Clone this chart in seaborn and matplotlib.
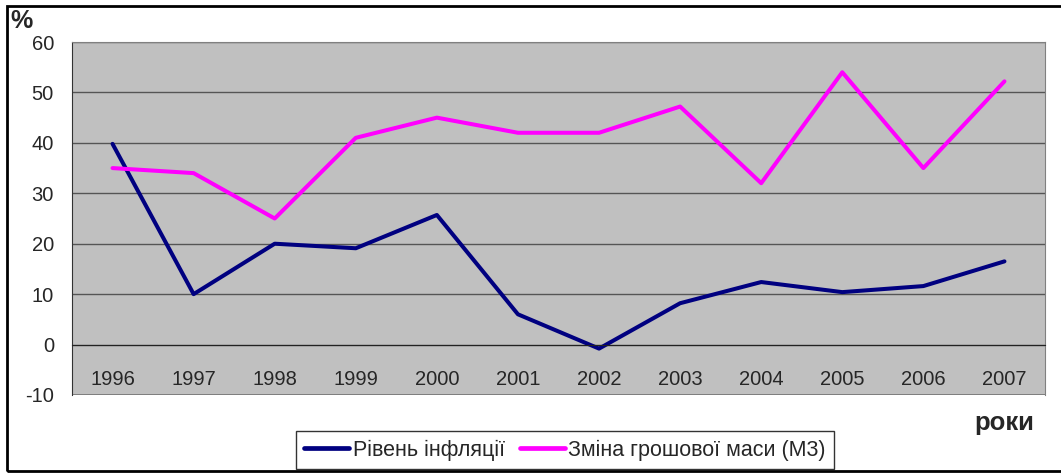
#!/usr/bin/env python3
import pandas as pd
import matplotlib
matplotlib.use("Agg")
import matplotlib.pyplot as plt
from matplotlib.patches import Rectangle
import seaborn as sns

years = ['1996', '1997', '1998', '1999', '2000', '2001',
         '2002', '2003', '2004', '2005', '2006', '2007']
inflation = [39.8, 10.0, 20.0, 19.1, 25.7, 6.0, -0.8, 8.2, 12.4, 10.4, 11.6, 16.5]
money_m3 = [35.0, 34.0, 25.0, 41.0, 45.0, 42.0, 42.0, 47.2, 32.0, 54.0, 35.0, 52.2]
series_names = ['Рівень інфляції', 'Зміна грошової маси (М3)']

df = pd.DataFrame({
    'year': years * 2,
    'value': inflation + money_m3,
    'series': [series_names[0]] * len(years) + [series_names[1]] * len(years),
})

sns.set_style("white")
plt.rcParams['font.family'] = ['Liberation Sans', 'DejaVu Sans']
plt.rcParams['axes.unicode_minus'] = False

W, H = 1061, 474
fig = plt.figure(figsize=(W / 100, H / 100), dpi=100)
ax = fig.add_axes([72 / W, (H - 395) / H, 973 / W, 353 / H])
ax.set_facecolor('#C0C0C0')

sns.lineplot(data=df, x='year', y='value', hue='series', sort=False,
             palette=['#000080', '#FF00FF'], linewidth=2.9, ax=ax, legend=False)

ax.set_xlim(-0.5, len(years) - 0.5)
ax.set_ylim(-10, 60)
ax.set_yticks(range(-10, 61, 10))
ax.yaxis.grid(True, color='#555555', linewidth=1)
ax.set_axisbelow(True)

for s in ['top', 'right']:
    ax.spines[s].set_color('#808080')
ax.spines['left'].set_color('#333333')
ax.spines['bottom'].set_position(('data', 0))
ax.spines['bottom'].set_color('#222222')
ax.axhline(-10, color='#808080', linewidth=1.2, zorder=0.5)

ax.set_xticks(range(len(years)))
ax.set_xticklabels(years)
ax.set_xticks([i - 0.5 for i in range(len(years) + 1)], minor=True)
ax.tick_params(axis='x', which='major', length=0, pad=18, labelsize=14.5)
ax.tick_params(axis='x', which='minor', length=5, direction='out', color='#222222')
ax.tick_params(axis='y', length=5, direction='out', color='#222222', labelsize=14.5, pad=8)
ax.set_xlabel('')
ax.set_ylabel('')

fig.text(10 / W, 1 - 28 / H, '%', fontsize=18, fontweight='bold')
fig.text(1034 / W, 1 - 430 / H, 'роки', fontsize=18.5, fontweight='bold', ha='right')

handles = [plt.Line2D([], [], color='#000080', linewidth=3.4),
           plt.Line2D([], [], color='#FF00FF', linewidth=3.4)]
leg = fig.legend(handles, series_names, loc='center', bbox_to_anchor=(565 / W, 1 - 450 / H),
                 ncol=2, fontsize=15.5, frameon=True, fancybox=False, edgecolor='black',
                 handlelength=2.1, handletextpad=0.15, columnspacing=0.7, borderpad=0.4)
leg.get_frame().set_linewidth(1)

fig.patches.append(Rectangle((7 / W, 3 / H), 1.2, (H - 9) / H, transform=fig.transFigure,
                             fill=False, edgecolor='black', linewidth=2))

fig.savefig('out.png', dpi=100)
